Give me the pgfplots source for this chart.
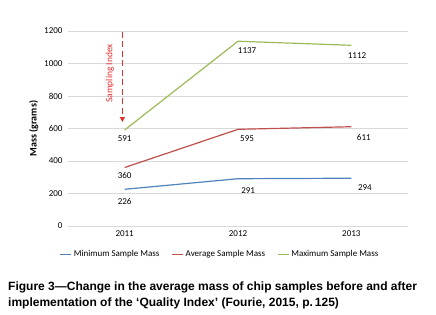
\documentclass[border=0pt]{standalone}
\usepackage{pgfplots}
\pgfplotsset{compat=1.18}
\usepackage{fontspec}
\setmainfont{Carlito}
\newfontfamily\capfont{Liberation Sans}
\usetikzlibrary{arrows.meta}
\definecolor{xblue}{HTML}{4F81BD}
\definecolor{xred}{HTML}{C0504D}
\definecolor{xgreen}{HTML}{9BBB59}
\definecolor{arrred}{HTML}{E0302E}
\begin{document}
\begin{tikzpicture}[font=\fontsize{9}{10}\selectfont]
\path[use as bounding box] (-68pt,-88pt) rectangle (368pt,226pt);
\begin{axis}[
  scale only axis, width=340pt, height=195pt, at={(0,0)}, anchor=south west,
  xmin=2010.5, xmax=2013.5, ymin=0, ymax=1200,
  xtick={2011,2012,2013}, xticklabels={2011,2012,2013},
  ytick={0,200,400,600,800,1000,1200},
  yticklabels={0,200,400,600,800,1000,1200},
  ymajorgrids, grid style={draw=black!15, line width=0.6pt},
  axis line style={draw=none}, tick style={draw=none},
  xticklabel style={yshift=-1pt},
  yticklabel style={xshift=-2pt},
  ylabel={\bfseries\fontsize{10}{11}\selectfont Mass (grams)},
  ylabel style={yshift=-1pt},
  legend style={at={(axis description cs:0.447,-0.145)}, anchor=center, draw=none,
    legend columns=3, font=\fontsize{9}{10}\selectfont,
    /tikz/every even column/.append style={column sep=10pt}},
  legend image code/.code={\draw[#1] (0pt,0pt) -- (11pt,0pt);},
  every axis plot/.append style={line width=1.2pt, mark=none},
]
\addplot[xblue] coordinates {(2011,226) (2012,291) (2013,294)};
\addlegendentry{Minimum Sample Mass}
\addplot[xred] coordinates {(2011,360) (2012,595) (2013,611)};
\addlegendentry{Average Sample Mass}
\addplot[xgreen] coordinates {(2011,591) (2012,1137) (2013,1112)};
\addlegendentry{Maximum Sample Mass}
% data labels
\node[anchor=north] at (axis cs:2011,591) [yshift=-2pt] {591};
\node[anchor=north] at (axis cs:2012.08,1137) [yshift=-3pt] {1137};
\node[anchor=north] at (axis cs:2013.05,1112) [yshift=-4pt] {1112};
\node[anchor=north] at (axis cs:2011,360) [yshift=-1pt] {360};
\node[anchor=north] at (axis cs:2012.08,595) [yshift=-3pt] {595};
\node[anchor=north] at (axis cs:2013.11,611) [yshift=-4pt] {611};
\node[anchor=north] at (axis cs:2011,226) [yshift=-6pt] {226};
\node[anchor=north] at (axis cs:2012.09,291) [yshift=-5pt] {291};
\node[anchor=north] at (axis cs:2013.12,294) [yshift=-3pt] {294};
% annotation
\draw[arrred, line width=1.6pt, dash pattern=on 6pt off 3.5pt, -{Triangle[length=5pt,width=5pt]}]
  (axis cs:2010.98,1195) -- (axis cs:2010.98,640);
\node[rotate=90, text=arrred, font=\fontsize{9.5}{10}\selectfont] at (axis cs:2010.87,940) {Sampling Index};
\end{axis}
\node[anchor=north west, align=left, inner sep=0pt, font=\capfont\bfseries\fontsize{12}{16}\selectfont]
  at (-60pt,-56pt) {Figure 3—Change in the average mass of chip samples before and after\\
  implementation of the ‘Quality Index’ (Fourie, 2015, p.\,125)};
\end{tikzpicture}
\end{document}
